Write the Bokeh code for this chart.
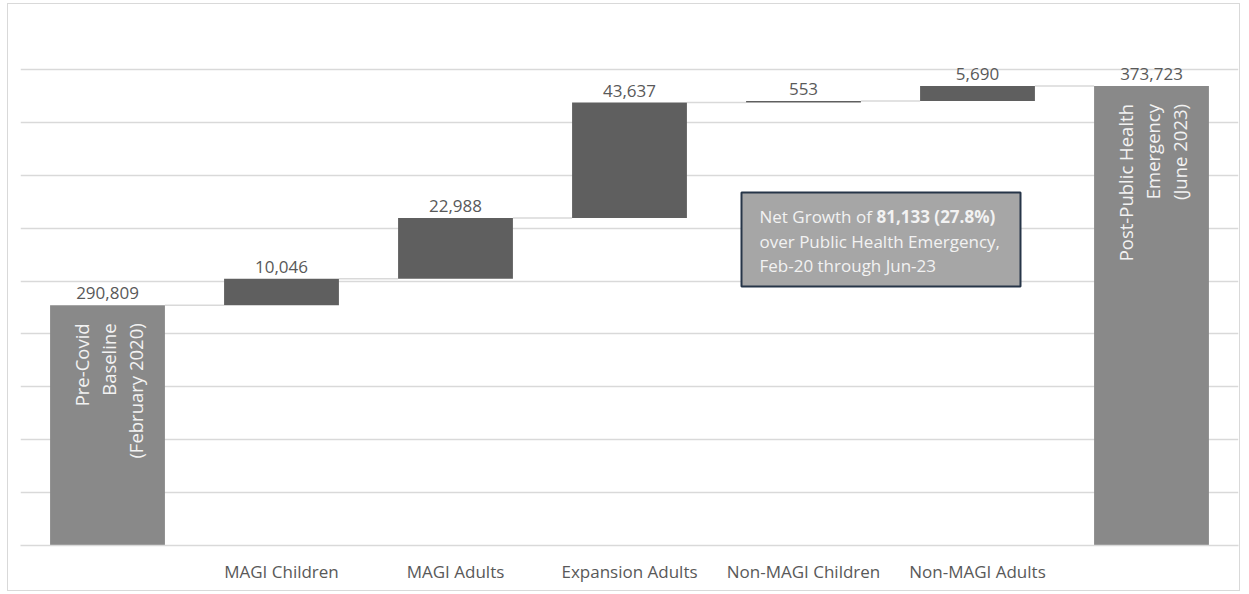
import numpy as np
from bokeh.plotting import figure
from bokeh.models import Range1d, FixedTicker, BoxAnnotation, Label, ColumnDataSource
from bokeh.core.properties import value
from bokeh.embed import file_html
from bokeh.resources import INLINE

# ---------------- data ----------------
categories = ["Pre-Covid Baseline (February 2020)", "MAGI Children", "MAGI Adults",
              "Expansion Adults", "Non-MAGI Children", "Non-MAGI Adults",
              "Post-Public Health Emergency (June 2023)"]
tick_labels = ["", "MAGI Children", "MAGI Adults", "Expansion Adults",
               "Non-MAGI Children", "Non-MAGI Adults", ""]
changes = [290809, 10046, 22988, 43637, 553, 5690, 373723]
is_total = [True, False, False, False, False, False, True]
pre_label_lines = ["Pre-Covid", "Baseline", "(February 2020)"]
post_label_lines = ["Post-Public Health", "Emergency", "(June 2023)"]
note_regular = "Net Growth of "
note_bold = "81,133 (27.8%)"
note_line2 = "over Public Health Emergency,"
note_line3 = "Feb-20 through Jun-23"
grid_ticks = list(range(200000, 400001, 20000))
y_min, y_max = 200000, 400000

# ---------------- styling ----------------
FONT = "Open Sans"
TOTAL_COLOR = "#898989"
INC_COLOR = "#5f5f5f"
TEXT_COLOR = "#595959"
GRID_COLOR = "#d9d9d9"

FRAME_L, FRAME_R, FRAME_T, FRAME_B = 20, 1238, 16, 545
OUT_L, OUT_T, OUT_W, OUT_H = 7, 3, 1233, 588
n = len(categories)
px_x = (FRAME_R - FRAME_L) / n              # pixels per category
px_y = (FRAME_B - FRAME_T) / (y_max - y_min)  # pixels per unit

def dx(px):
    return px / px_x

def dy(px):
    return px / px_y

def x_of(px):
    return -0.5 + (px - FRAME_L) / px_x

def y_of(py):
    return y_min + (FRAME_B - py) / px_y

# waterfall geometry from data
bottoms, tops, colors = [], [], []
running = 0
for v, tot in zip(changes, is_total):
    if tot:
        bottoms.append(0)
        tops.append(v)
        running = v
        colors.append(TOTAL_COLOR)
    else:
        bottoms.append(running)
        tops.append(running + v)
        running += v
        colors.append(INC_COLOR)

xs = list(range(n))
bar_w = 0.66
src = ColumnDataSource(dict(x=xs, bottom=bottoms, top=tops, color=colors,
                            label=[f"{v:,}" for v in changes],
                            label_y=[t + dy(12) for t in tops]))

p = figure(width=OUT_W, height=OUT_H, output_backend="svg", toolbar_location=None,
           x_range=Range1d(-0.5, n - 0.5), y_range=Range1d(y_min, y_max),
           min_border_left=FRAME_L - OUT_L - 1, min_border_right=OUT_L + 1 + OUT_W - FRAME_R,
           min_border_top=FRAME_T - OUT_T - 1, min_border_bottom=OUT_T + 1 + OUT_H - FRAME_B,
           y_axis_location=None)
p.styles = {"border": "1px solid #d9d9d9", "margin-left": f"{OUT_L}px", "margin-top": f"{OUT_T}px"}
p.outline_line_color = None
p.background_fill_color = "white"
p.border_fill_color = "white"

# grid
p.xgrid.visible = False
p.ygrid.ticker = FixedTicker(ticks=grid_ticks)
p.ygrid.grid_line_color = GRID_COLOR
p.ygrid.grid_line_width = 1.5

# x axis
p.xaxis.ticker = FixedTicker(ticks=xs)
p.xaxis.major_label_overrides = {i: t for i, t in enumerate(tick_labels)}
p.xaxis.major_tick_line_color = None
p.xaxis.minor_tick_line_color = None
p.xaxis.axis_line_color = GRID_COLOR
p.xaxis.axis_line_width = 1.5
p.xaxis.major_label_text_font = FONT
p.xaxis.major_label_text_font_size = "17px"
p.xaxis.major_label_text_color = TEXT_COLOR
p.xaxis.major_label_standoff = 8

# connectors
cx0 = [xs[i] + bar_w / 2 for i in range(n - 1)]
cx1 = [xs[i + 1] - bar_w / 2 for i in range(n - 1)]
cy = [tops[i] for i in range(n - 1)]
p.segment(x0=cx0, y0=cy, x1=cx1, y1=cy, line_color=GRID_COLOR, line_width=1.5)

# bars
p.vbar(x="x", bottom="bottom", top="top", width=bar_w, fill_color="color",
       line_color=None, source=src)

# value labels
p.text(x="x", y="label_y", text="label", source=src, text_font=value(FONT),
       text_font_size="17px", text_color=TEXT_COLOR, text_align="center",
       text_baseline="middle")

# rotated total labels
line_offsets = [-26, 1, 28]
rot_x, rot_y, rot_t = [], [], []
for idx, lines in ((0, pre_label_lines), (n - 1, post_label_lines)):
    for off, t in zip(line_offsets, lines):
        rot_x.append(xs[idx] + dx(off))
        rot_y.append(tops[idx] - dy(18))
        rot_t.append(t)
p.text(x=rot_x, y=rot_y, text=rot_t, angle=np.pi / 2, text_font=value(FONT),
       text_font_size="18.5px", text_color="#f2f2f2", text_align="right",
       text_baseline="middle")

# annotation box
box = BoxAnnotation(left=x_of(741), right=x_of(1020), top=y_of(192), bottom=y_of(286),
                    fill_color="#a6a6a6", fill_alpha=1.0, line_color="#263548",
                    line_width=2, line_alpha=1.0)
p.add_layout(box)

note_left = 759
for txt, px_left, py, style in ((note_regular, note_left, 216, "normal"),
                                (note_bold, note_left + 117, 216, "bold"),
                                (note_line2, note_left, 241, "normal"),
                                (note_line3, note_left, 265, "normal")):
    p.add_layout(Label(x=x_of(px_left), y=y_of(py), text=txt, text_font=FONT,
                       text_font_size="17px", text_font_style=style,
                       text_color="#f2f2f2", text_align="left", text_baseline="middle"))

open("out.html", "w").write(file_html(p, INLINE))
